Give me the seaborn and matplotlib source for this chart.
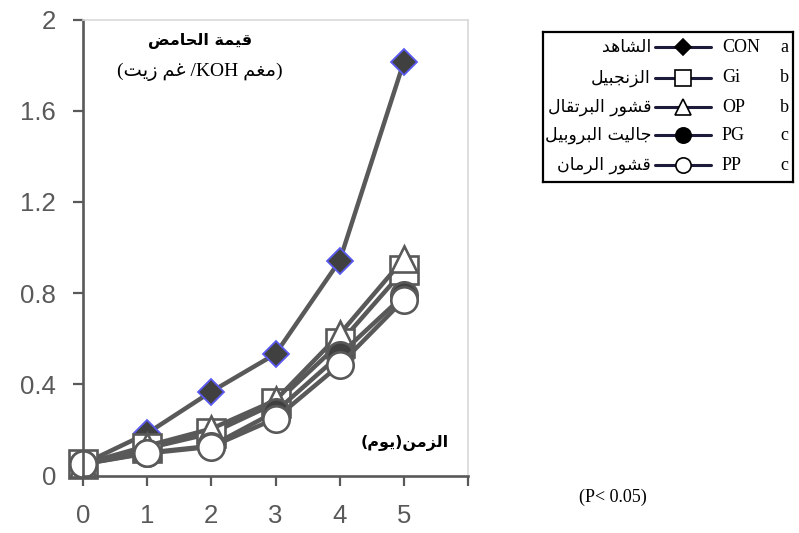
import matplotlib
matplotlib.use("Agg")
import matplotlib.pyplot as plt
import seaborn as sns
import pandas as pd

# ---- data -------------------------------------------------------------
days = [0, 1, 2, 3, 4, 5]
con = [0.05, 0.185, 0.368, 0.533, 0.942, 1.814]
gi = [0.05, 0.119, 0.185, 0.317, 0.580, 0.901]
op = [0.05, 0.130, 0.205, 0.330, 0.620, 0.950]
pg = [0.05, 0.100, 0.130, 0.280, 0.529, 0.790]
pp = [0.05, 0.097, 0.126, 0.250, 0.485, 0.771]

codes = ["CON", "Gi", "OP", "PG", "PP"]
letters = ["a", "b", "b", "c", "c"]
names_ar = ["الشاهد", "الزنجبيل", "قشور البرتقال", "جاليت البروبيل", "قشور الرمان"]
yticks = [0, 0.4, 0.8, 1.2, 1.6, 2]
ytick_labels = ["0", "0.4", "0.8", "1.2", "1.6", "2"]
xtick_labels = ["0", "1", "2", "3", "4", "5"]

# ---- Arabic shaping (presentation forms + visual order) ----------------
FORMS = {
    'ا': (0xFE8D, 0xFE8E, None, None),
    'ب': (0xFE8F, 0xFE90, 0xFE91, 0xFE92),
    'ة': (0xFE93, 0xFE94, None, None),
    'ت': (0xFE95, 0xFE96, 0xFE97, 0xFE98),
    'ج': (0xFE9D, 0xFE9E, 0xFE9F, 0xFEA0),
    'ح': (0xFEA1, 0xFEA2, 0xFEA3, 0xFEA4),
    'د': (0xFEA9, 0xFEAA, None, None),
    'ر': (0xFEAD, 0xFEAE, None, None),
    'ز': (0xFEAF, 0xFEB0, None, None),
    'ش': (0xFEB5, 0xFEB6, 0xFEB7, 0xFEB8),
    'ض': (0xFEBD, 0xFEBE, 0xFEBF, 0xFEC0),
    'غ': (0xFECD, 0xFECE, 0xFECF, 0xFED0),
    'ق': (0xFED5, 0xFED6, 0xFED7, 0xFED8),
    'ل': (0xFEDD, 0xFEDE, 0xFEDF, 0xFEE0),
    'م': (0xFEE1, 0xFEE2, 0xFEE3, 0xFEE4),
    'ن': (0xFEE5, 0xFEE6, 0xFEE7, 0xFEE8),
    'ه': (0xFEE9, 0xFEEA, 0xFEEB, 0xFEEC),
    'و': (0xFEED, 0xFEEE, None, None),
    'ي': (0xFEF1, 0xFEF2, 0xFEF3, 0xFEF4),
}


def ar(text):
    """Shape an Arabic run and return it in left-to-right display order."""
    out = []
    for i, ch in enumerate(text):
        if ch not in FORMS:
            out.append(ch)
            continue
        iso, fin, ini, med = FORMS[ch]
        prev = text[i - 1] if i > 0 else None
        nxt = text[i + 1] if i + 1 < len(text) else None
        join_prev = prev in FORMS and FORMS[prev][2] is not None
        join_next = ini is not None and nxt in FORMS
        if join_prev and join_next:
            code = med
        elif join_prev:
            code = fin
        elif join_next:
            code = ini
        else:
            code = iso
        out.append(chr(code))
    return "".join(out)[::-1]


# ---- figure -----------------------------------------------------------
sns.set_theme(style="white")
plt.rcParams["font.family"] = ["Liberation Sans", "DejaVu Sans"]

W, H = 799, 533
fig = plt.figure(figsize=(W / 100, H / 100), dpi=100)
ax = fig.add_axes([83 / W, 1 - 475.5 / H, (468 - 83) / W, (475.5 - 19.5) / H])

AXIS = "#595959"
LINE = "#595959"

series = [
    dict(y=con, marker="D", ms=13.5, mfc="#404040", mec="#5a5af0", mew=1.3),
    dict(y=gi, marker="s", ms=20, mfc="white", mec=LINE, mew=1.9),
    dict(y=op, marker="^", ms=19, mfc="white", mec=LINE, mew=1.9),
    dict(y=pg, marker="o", ms=19, mfc="#404040", mec=LINE, mew=1.9),
    dict(y=pp, marker="o", ms=19, mfc="white", mec=LINE, mew=1.9),
]
for s in series:
    df = pd.DataFrame({"day": days, "value": s["y"]})
    sns.lineplot(data=df, x="day", y="value", ax=ax, color=LINE, linewidth=3.2,
                 marker=s["marker"], markersize=s["ms"], markerfacecolor=s["mfc"],
                 markeredgecolor=s["mec"], markeredgewidth=s["mew"],
                 legend=False, clip_on=False)

ax.set_xlim(0, 6)
ax.set_ylim(0, 2)
ax.set_xticks(range(0, 7))
ax.set_xticklabels(xtick_labels + [""])
ax.set_yticks(yticks)
ax.set_yticklabels(ytick_labels)
ax.set_xlabel("")
ax.set_ylabel("")

for side in ("left", "bottom"):
    ax.spines[side].set_color(AXIS)
    ax.spines[side].set_linewidth(1.9)
for side in ("top", "right"):
    ax.spines[side].set_color("#d9d9d9")
    ax.spines[side].set_linewidth(1.2)
ax.tick_params(axis="both", which="major", direction="out", length=7.5, width=1.6,
               color=AXIS, labelcolor=AXIS, labelsize=18.5)
ax.tick_params(axis="y", pad=12)
ax.tick_params(axis="x", pad=13)
ax.tick_params(left=True, bottom=True)

# titles inside the plot area
fig.text(200 / W, 1 - 41 / H, ar("قيمة الحامض"), ha="center", va="center",
         fontsize=11.5, fontweight="bold", family=["DejaVu Sans"], color="black")
unit = "(" + ar("غم زيت") + " /KOH " + ar("مغم") + ")"
fig.text(200 / W, 1 - 72 / H, unit, ha="center", va="center",
         fontsize=14, family=["Liberation Serif", "DejaVu Sans"], color="black")
xname = "(" + ar("يوم") + ")" + ar("الزمن")
fig.text(405 / W, 1 - 443 / H, xname, ha="center", va="center",
         fontsize=11.5, fontweight="bold", family=["DejaVu Sans"], color="black")

fig.text(613 / W, 1 - 497 / H, "(P< 0.05)", ha="center", va="center",
         fontsize=13, family=["Liberation Serif"], color="black")

# ---- legend box ---------------------------------------------------------
lx0, lx1, ly0, ly1 = 543, 793, 32, 182
lax = fig.add_axes([lx0 / W, 1 - ly1 / H, (lx1 - lx0) / W, (ly1 - ly0) / H])
lax.set_xlim(lx0, lx1)
lax.set_ylim(ly1, ly0)
lax.set_xticks([])
lax.set_yticks([])
lax.set_facecolor("white")
for sp in lax.spines.values():
    sp.set_color("black")
    sp.set_linewidth(1.6)

row_y = [47, 78, 107, 135, 165]
leg_marks = [
    dict(marker="D", ms=8, mfc="black", mec="black"),
    dict(marker="s", ms=11, mfc="white", mec="black"),
    dict(marker="^", ms=11, mfc="white", mec="black"),
    dict(marker="o", ms=11, mfc="black", mec="black"),
    dict(marker="o", ms=11, mfc="white", mec="black"),
]
for yy, name, code, let, m in zip(row_y, names_ar, codes, letters, leg_marks):
    lax.plot([655, 711], [yy, yy], color="#1c1c3a", linewidth=2.2)
    lax.plot([683], [yy], linestyle="none", marker=m["marker"], markersize=m["ms"],
             markerfacecolor=m["mfc"], markeredgecolor=m["mec"], markeredgewidth=1.2)
    lax.text(651, yy, ar(name), ha="right", va="center", fontsize=12.5,
             family=["DejaVu Sans"], color="black")
    lax.text(722, yy, code, ha="left", va="center", fontsize=13,
             family=["Liberation Serif"], color="black")
    lax.text(784, yy, let, ha="center", va="center", fontsize=13,
             family=["Liberation Serif"], color="black")

fig.savefig("out.png", dpi=100, facecolor="white")
